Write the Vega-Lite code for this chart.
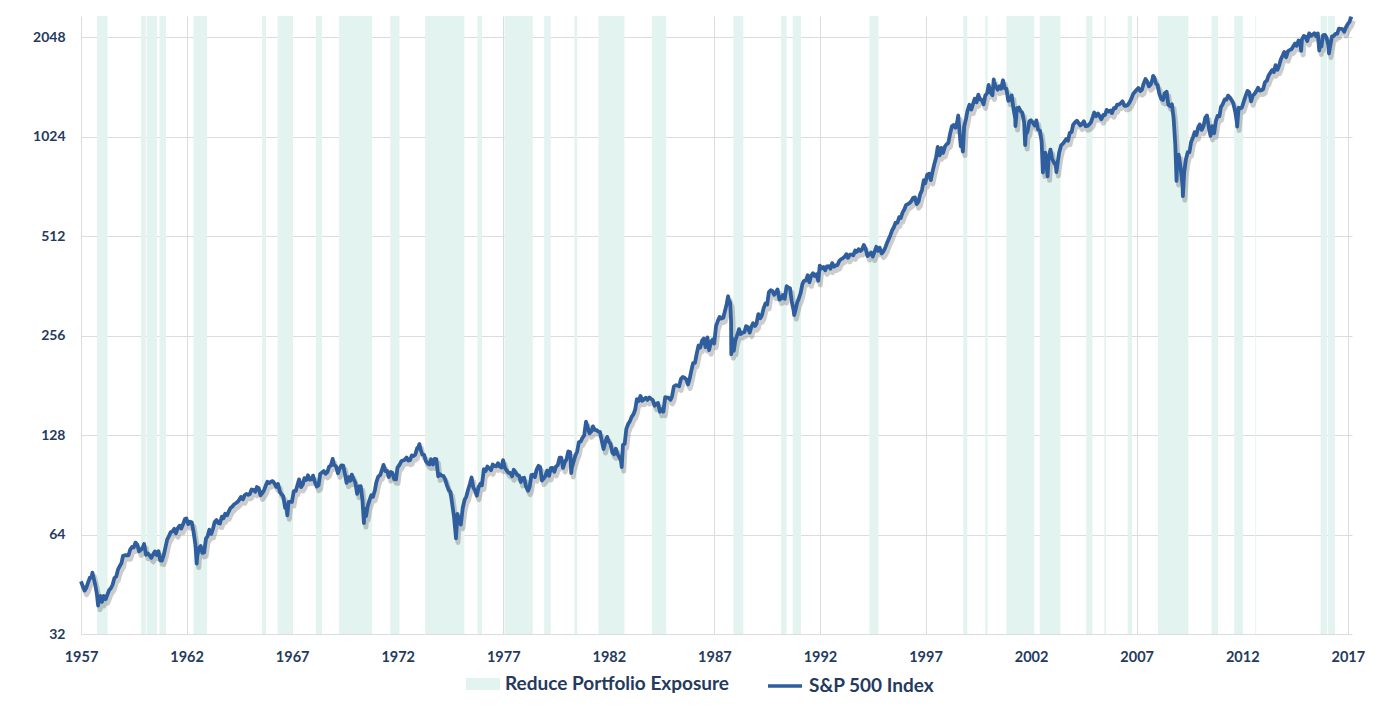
{
"$schema":"https://vega.github.io/schema/vega-lite/v6.json",
"width":1271,"height":618,
"autosize":{"type":"none"},
"padding":{"left":81,"top":16,"right":37,"bottom":74},
"background":"white",
"config":{"view":{"stroke":null},"font":"Lato"},
"datasets":{
"bands":[
{"s":1957.76,"e":1958.26},{"s":1959.84,"e":1960.07},{"s":1960.11,"e":1960.6},{"s":1960.72,"e":1961.02},{"s":1962.33,"e":1962.97},{"s":1965.58,"e":1965.76},{"s":1966.31,"e":1967.04},{"s":1968.13,"e":1968.41},{"s":1969.22,"e":1970.79},{"s":1971.65,"e":1972.08},{"s":1973.3,"e":1975.16},{"s":1975.78,"e":1975.99},{"s":1977.06,"e":1978.4},{"s":1978.94,"e":1979.25},{"s":1980.37,"e":1980.5},{"s":1981.51,"e":1982.74},{"s":1984.04,"e":1984.72},{"s":1987.9,"e":1988.37},{"s":1990.16,"e":1990.42},{"s":1990.71,"e":1991.1},{"s":1994.34,"e":1994.77},{"s":1998.79,"e":1998.98},{"s":1999.83,"e":1999.94},{"s":2000.83,"e":2002.15},{"s":2002.41,"e":2003.39},{"s":2004.61,"e":2004.9},{"s":2005.47,"e":2005.55},{"s":2006.57,"e":2006.78},{"s":2008.01,"e":2009.45},{"s":2010.55,"e":2010.85},{"s":2011.62,"e":2012.04},{"s":2012.62,"e":2012.66},{"s":2015.71,"e":2016.02},{"s":2016.07,"e":2016.39}
],
"spx":[
{"t":1957.0,"v":46.2},{"t":1957.54,"v":49.1},{"t":1957.81,"v":39.0},{"t":1962.48,"v":52.3},{"t":1966.77,"v":73.2},{"t":1970.4,"v":69.3},{"t":1973.03,"v":120.2},{"t":1974.76,"v":62.3},{"t":1978.18,"v":86.9},{"t":1980.22,"v":98.2},{"t":1982.61,"v":102.4},{"t":1987.65,"v":336.8},{"t":1987.79,"v":282.7},{"t":1987.8,"v":224.8},{"t":1990.78,"v":295.5},{"t":1998.55,"v":1186.8},{"t":1998.77,"v":923.3},{"t":2000.23,"v":1527.5},{"t":2001.26,"v":1103.3},{"t":2001.72,"v":965.8},{"t":2002.56,"v":797.7},{"t":2002.78,"v":776.8},{"t":2003.2,"v":800.7},{"t":2007.78,"v":1565.2},{"t":2008.89,"v":752.4},{"t":2009.19,"v":676.5},{"t":2011.76,"v":1099.2},{"t":2014.79,"v":1862.5},{"t":2015.65,"v":1867.6},{"t":2016.11,"v":1829.1},
{"t":1957.08,"v":44.7},{"t":1957.17,"v":43.3},{"t":1957.25,"v":44.1},{"t":1957.33,"v":45.7},{"t":1957.42,"v":47.4},{"t":1957.5,"v":47.4},{"t":1957.58,"v":47.9},{"t":1957.67,"v":45.2},{"t":1957.75,"v":42.4},{"t":1957.83,"v":41.1},{"t":1957.92,"v":41.7},{"t":1957.99,"v":40.0},
{"t":1958.08,"v":41.7},{"t":1958.17,"v":40.8},{"t":1958.25,"v":42.1},{"t":1958.33,"v":43.4},{"t":1958.42,"v":44.1},{"t":1958.5,"v":45.2},{"t":1958.58,"v":47.2},{"t":1958.67,"v":47.8},{"t":1958.75,"v":50.1},{"t":1958.83,"v":51.3},{"t":1958.92,"v":52.5},{"t":1958.99,"v":55.2},
{"t":1959.08,"v":55.4},{"t":1959.17,"v":55.4},{"t":1959.25,"v":55.4},{"t":1959.33,"v":57.6},{"t":1959.42,"v":58.7},{"t":1959.5,"v":58.5},{"t":1959.58,"v":60.5},{"t":1959.67,"v":59.6},{"t":1959.75,"v":56.9},{"t":1959.83,"v":57.5},{"t":1959.92,"v":58.3},{"t":1959.99,"v":59.9},
{"t":1960.08,"v":55.6},{"t":1960.17,"v":56.1},{"t":1960.25,"v":55.3},{"t":1960.33,"v":54.4},{"t":1960.42,"v":55.8},{"t":1960.5,"v":56.9},{"t":1960.58,"v":55.5},{"t":1960.67,"v":57.0},{"t":1960.75,"v":53.5},{"t":1960.83,"v":53.4},{"t":1960.92,"v":55.5},{"t":1960.99,"v":58.1},
{"t":1961.08,"v":61.8},{"t":1961.17,"v":63.4},{"t":1961.25,"v":65.1},{"t":1961.33,"v":65.3},{"t":1961.42,"v":66.6},{"t":1961.5,"v":64.6},{"t":1961.58,"v":66.8},{"t":1961.67,"v":68.1},{"t":1961.75,"v":66.7},{"t":1961.83,"v":68.6},{"t":1961.92,"v":71.3},{"t":1961.99,"v":71.6},
{"t":1962.08,"v":68.8},{"t":1962.17,"v":70.0},{"t":1962.25,"v":69.6},{"t":1962.33,"v":65.2},{"t":1962.42,"v":59.6},{"t":1962.5,"v":54.8},{"t":1962.58,"v":58.2},{"t":1962.67,"v":59.1},{"t":1962.75,"v":56.3},{"t":1962.83,"v":56.5},{"t":1962.92,"v":62.3},{"t":1962.99,"v":63.1},
{"t":1963.08,"v":66.2},{"t":1963.17,"v":64.3},{"t":1963.25,"v":66.6},{"t":1963.33,"v":69.8},{"t":1963.42,"v":70.8},{"t":1963.5,"v":69.4},{"t":1963.58,"v":69.1},{"t":1963.67,"v":72.5},{"t":1963.75,"v":71.7},{"t":1963.83,"v":74.0},{"t":1963.92,"v":73.2},{"t":1963.99,"v":75.0},
{"t":1964.08,"v":77.0},{"t":1964.17,"v":77.8},{"t":1964.25,"v":79.0},{"t":1964.33,"v":79.5},{"t":1964.42,"v":80.4},{"t":1964.5,"v":81.7},{"t":1964.58,"v":83.2},{"t":1964.67,"v":81.8},{"t":1964.75,"v":84.2},{"t":1964.83,"v":84.9},{"t":1964.92,"v":84.4},{"t":1964.99,"v":84.8},
{"t":1965.08,"v":87.6},{"t":1965.17,"v":87.4},{"t":1965.25,"v":86.2},{"t":1965.33,"v":89.1},{"t":1965.42,"v":88.4},{"t":1965.5,"v":84.1},{"t":1965.58,"v":85.3},{"t":1965.67,"v":87.2},{"t":1965.75,"v":90.0},{"t":1965.83,"v":92.4},{"t":1965.92,"v":91.6},{"t":1965.99,"v":92.4},
{"t":1966.08,"v":92.9},{"t":1966.17,"v":91.2},{"t":1966.25,"v":89.2},{"t":1966.33,"v":91.1},{"t":1966.42,"v":86.1},{"t":1966.5,"v":84.7},{"t":1966.58,"v":83.6},{"t":1966.67,"v":77.1},{"t":1966.75,"v":76.6},{"t":1966.83,"v":80.2},{"t":1966.92,"v":80.5},{"t":1966.99,"v":80.3},
{"t":1967.08,"v":86.6},{"t":1967.17,"v":86.8},{"t":1967.25,"v":90.2},{"t":1967.33,"v":94.0},{"t":1967.42,"v":89.1},{"t":1967.5,"v":90.6},{"t":1967.58,"v":94.8},{"t":1967.67,"v":93.6},{"t":1967.75,"v":96.7},{"t":1967.83,"v":93.9},{"t":1967.92,"v":94.0},{"t":1967.99,"v":96.5},
{"t":1968.08,"v":92.2},{"t":1968.17,"v":89.4},{"t":1968.25,"v":90.2},{"t":1968.33,"v":97.6},{"t":1968.42,"v":98.7},{"t":1968.5,"v":99.6},{"t":1968.58,"v":97.7},{"t":1968.67,"v":98.9},{"t":1968.75,"v":102.7},{"t":1968.83,"v":103.4},{"t":1968.92,"v":108.4},{"t":1968.99,"v":103.9},
{"t":1969.08,"v":103.0},{"t":1969.17,"v":98.1},{"t":1969.25,"v":101.5},{"t":1969.33,"v":103.7},{"t":1969.42,"v":103.5},{"t":1969.5,"v":97.7},{"t":1969.58,"v":91.8},{"t":1969.67,"v":95.5},{"t":1969.75,"v":93.1},{"t":1969.83,"v":97.2},{"t":1969.92,"v":93.8},{"t":1969.99,"v":92.1},
{"t":1970.08,"v":85.0},{"t":1970.17,"v":89.5},{"t":1970.25,"v":89.6},{"t":1970.33,"v":81.5},{"t":1970.42,"v":76.6},{"t":1970.5,"v":72.7},{"t":1970.58,"v":78.1},{"t":1970.67,"v":81.5},{"t":1970.75,"v":84.2},{"t":1970.83,"v":83.3},{"t":1970.92,"v":87.2},{"t":1970.99,"v":92.2},
{"t":1971.08,"v":95.9},{"t":1971.17,"v":96.8},{"t":1971.25,"v":100.3},{"t":1971.33,"v":104.0},{"t":1971.42,"v":99.6},{"t":1971.5,"v":99.7},{"t":1971.58,"v":95.6},{"t":1971.67,"v":99.0},{"t":1971.75,"v":98.3},{"t":1971.83,"v":94.2},{"t":1971.92,"v":94.0},{"t":1971.99,"v":102.1},
{"t":1972.08,"v":103.9},{"t":1972.17,"v":106.6},{"t":1972.25,"v":107.2},{"t":1972.33,"v":107.7},{"t":1972.42,"v":109.5},{"t":1972.5,"v":107.1},{"t":1972.58,"v":107.4},{"t":1972.67,"v":111.1},{"t":1972.75,"v":110.6},{"t":1972.83,"v":111.6},{"t":1972.92,"v":116.7},{"t":1972.99,"v":118.1},
{"t":1973.08,"v":116.0},{"t":1973.17,"v":111.7},{"t":1973.25,"v":111.5},{"t":1973.33,"v":107.0},{"t":1973.42,"v":105.0},{"t":1973.5,"v":104.3},{"t":1973.58,"v":108.2},{"t":1973.67,"v":104.3},{"t":1973.75,"v":108.4},{"t":1973.83,"v":108.3},{"t":1973.92,"v":96.0},{"t":1973.99,"v":97.6},
{"t":1974.08,"v":96.6},{"t":1974.17,"v":96.2},{"t":1974.25,"v":94.0},{"t":1974.33,"v":90.3},{"t":1974.42,"v":87.3},{"t":1974.5,"v":86.0},{"t":1974.58,"v":79.3},{"t":1974.67,"v":72.2},{"t":1974.75,"v":63.5},{"t":1974.83,"v":73.9},{"t":1974.92,"v":70.0},{"t":1974.99,"v":68.6},
{"t":1975.08,"v":77.0},{"t":1975.17,"v":81.6},{"t":1975.25,"v":83.4},{"t":1975.33,"v":87.3},{"t":1975.42,"v":91.2},{"t":1975.5,"v":95.2},{"t":1975.58,"v":88.8},{"t":1975.67,"v":86.9},{"t":1975.75,"v":83.9},{"t":1975.83,"v":89.0},{"t":1975.92,"v":91.2},{"t":1975.99,"v":90.2},
{"t":1976.08,"v":100.9},{"t":1976.17,"v":99.7},{"t":1976.25,"v":102.8},{"t":1976.33,"v":101.6},{"t":1976.42,"v":100.2},{"t":1976.5,"v":104.3},{"t":1976.58,"v":103.4},{"t":1976.67,"v":102.9},{"t":1976.75,"v":105.2},{"t":1976.83,"v":102.9},{"t":1976.92,"v":102.1},{"t":1976.99,"v":107.5},
{"t":1977.08,"v":102.0},{"t":1977.17,"v":99.8},{"t":1977.25,"v":98.4},{"t":1977.33,"v":98.4},{"t":1977.42,"v":96.1},{"t":1977.5,"v":100.5},{"t":1977.58,"v":98.9},{"t":1977.67,"v":96.8},{"t":1977.75,"v":96.5},{"t":1977.83,"v":92.3},{"t":1977.92,"v":94.8},{"t":1977.99,"v":95.1},
{"t":1978.08,"v":89.3},{"t":1978.17,"v":87.0},{"t":1978.25,"v":89.2},{"t":1978.33,"v":96.8},{"t":1978.42,"v":97.2},{"t":1978.5,"v":95.5},{"t":1978.58,"v":100.7},{"t":1978.67,"v":103.3},{"t":1978.75,"v":102.5},{"t":1978.83,"v":93.2},{"t":1978.92,"v":94.7},{"t":1978.99,"v":96.1},
{"t":1979.08,"v":99.9},{"t":1979.17,"v":96.3},{"t":1979.25,"v":101.6},{"t":1979.33,"v":101.8},{"t":1979.42,"v":99.1},{"t":1979.5,"v":102.9},{"t":1979.58,"v":103.8},{"t":1979.67,"v":109.3},{"t":1979.75,"v":109.3},{"t":1979.83,"v":101.8},{"t":1979.92,"v":106.2},{"t":1979.99,"v":107.9},
{"t":1980.08,"v":114.2},{"t":1980.17,"v":113.7},{"t":1980.25,"v":102.1},{"t":1980.33,"v":106.3},{"t":1980.42,"v":111.2},{"t":1980.5,"v":114.2},{"t":1980.58,"v":121.7},{"t":1980.67,"v":122.4},{"t":1980.75,"v":125.5},{"t":1980.83,"v":127.5},{"t":1980.92,"v":140.5},{"t":1980.99,"v":135.8},
{"t":1981.08,"v":129.6},{"t":1981.17,"v":131.3},{"t":1981.25,"v":136.0},{"t":1981.33,"v":132.8},{"t":1981.42,"v":132.6},{"t":1981.5,"v":131.2},{"t":1981.58,"v":130.9},{"t":1981.67,"v":122.8},{"t":1981.75,"v":116.2},{"t":1981.83,"v":121.9},{"t":1981.92,"v":126.4},{"t":1981.99,"v":122.6},
{"t":1982.08,"v":120.4},{"t":1982.17,"v":113.1},{"t":1982.25,"v":112.0},{"t":1982.33,"v":116.4},{"t":1982.42,"v":111.9},{"t":1982.5,"v":109.6},{"t":1982.58,"v":107.1},{"t":1982.67,"v":119.5},{"t":1982.75,"v":120.4},{"t":1982.83,"v":133.7},{"t":1982.92,"v":138.5},{"t":1982.99,"v":140.6},
{"t":1983.08,"v":145.3},{"t":1983.17,"v":148.1},{"t":1983.25,"v":153.0},{"t":1983.33,"v":164.4},{"t":1983.42,"v":162.4},{"t":1983.5,"v":168.1},{"t":1983.58,"v":162.6},{"t":1983.67,"v":164.4},{"t":1983.75,"v":166.1},{"t":1983.83,"v":163.6},{"t":1983.92,"v":166.4},{"t":1983.99,"v":164.9},
{"t":1984.08,"v":163.4},{"t":1984.17,"v":157.1},{"t":1984.25,"v":159.2},{"t":1984.33,"v":160.1},{"t":1984.42,"v":150.6},{"t":1984.5,"v":153.2},{"t":1984.58,"v":150.7},{"t":1984.67,"v":166.7},{"t":1984.75,"v":166.1},{"t":1984.83,"v":166.1},{"t":1984.92,"v":163.6},{"t":1984.99,"v":167.2},
{"t":1985.08,"v":179.6},{"t":1985.17,"v":181.2},{"t":1985.25,"v":180.7},{"t":1985.33,"v":179.8},{"t":1985.42,"v":189.6},{"t":1985.5,"v":191.9},{"t":1985.58,"v":190.9},{"t":1985.67,"v":188.6},{"t":1985.75,"v":182.1},{"t":1985.83,"v":189.8},{"t":1985.92,"v":202.2},{"t":1985.99,"v":211.3},
{"t":1986.08,"v":211.8},{"t":1986.17,"v":226.9},{"t":1986.25,"v":238.9},{"t":1986.33,"v":235.5},{"t":1986.42,"v":247.4},{"t":1986.5,"v":250.8},{"t":1986.58,"v":236.1},{"t":1986.67,"v":252.9},{"t":1986.75,"v":231.3},{"t":1986.83,"v":244.0},{"t":1986.92,"v":249.2},{"t":1986.99,"v":242.2},
{"t":1987.08,"v":274.1},{"t":1987.17,"v":284.2},{"t":1987.25,"v":291.7},{"t":1987.33,"v":288.4},{"t":1987.42,"v":290.1},{"t":1987.5,"v":304.0},{"t":1987.58,"v":318.7},{"t":1987.67,"v":329.8},{"t":1987.75,"v":321.8},{"t":1987.83,"v":251.8},{"t":1987.92,"v":230.3},{"t":1987.99,"v":247.1},
{"t":1988.08,"v":257.1},{"t":1988.17,"v":267.8},{"t":1988.25,"v":258.9},{"t":1988.33,"v":261.3},{"t":1988.42,"v":262.2},{"t":1988.5,"v":273.5},{"t":1988.58,"v":272.0},{"t":1988.67,"v":261.5},{"t":1988.75,"v":271.9},{"t":1988.83,"v":279.0},{"t":1988.92,"v":273.7},{"t":1988.99,"v":277.7},
{"t":1989.08,"v":297.5},{"t":1989.17,"v":288.9},{"t":1989.25,"v":294.9},{"t":1989.33,"v":309.6},{"t":1989.42,"v":320.5},{"t":1989.5,"v":318.0},{"t":1989.58,"v":346.1},{"t":1989.67,"v":351.5},{"t":1989.75,"v":349.2},{"t":1989.83,"v":340.4},{"t":1989.92,"v":346.0},{"t":1989.99,"v":353.4},
{"t":1990.08,"v":329.1},{"t":1990.17,"v":331.9},{"t":1990.25,"v":339.9},{"t":1990.33,"v":330.8},{"t":1990.42,"v":361.2},{"t":1990.5,"v":358.0},{"t":1990.58,"v":356.2},{"t":1990.67,"v":322.6},{"t":1990.75,"v":306.1},{"t":1990.83,"v":304.0},{"t":1990.92,"v":322.2},{"t":1990.99,"v":330.2},
{"t":1991.08,"v":343.9},{"t":1991.17,"v":367.1},{"t":1991.25,"v":375.2},{"t":1991.33,"v":375.4},{"t":1991.42,"v":389.8},{"t":1991.5,"v":371.2},{"t":1991.58,"v":387.8},{"t":1991.67,"v":395.4},{"t":1991.75,"v":387.9},{"t":1991.83,"v":392.5},{"t":1991.92,"v":375.2},{"t":1991.99,"v":417.1},
{"t":1992.08,"v":408.8},{"t":1992.17,"v":412.7},{"t":1992.25,"v":403.7},{"t":1992.33,"v":415.0},{"t":1992.42,"v":415.4},{"t":1992.5,"v":408.1},{"t":1992.58,"v":424.2},{"t":1992.67,"v":414.0},{"t":1992.75,"v":417.8},{"t":1992.83,"v":418.7},{"t":1992.92,"v":431.4},{"t":1992.99,"v":435.7},
{"t":1993.08,"v":438.8},{"t":1993.17,"v":443.4},{"t":1993.25,"v":451.7},{"t":1993.33,"v":440.2},{"t":1993.42,"v":450.2},{"t":1993.5,"v":450.5},{"t":1993.58,"v":448.1},{"t":1993.67,"v":463.6},{"t":1993.75,"v":458.9},{"t":1993.83,"v":467.8},{"t":1993.92,"v":461.8},{"t":1993.99,"v":466.5},
{"t":1994.08,"v":481.6},{"t":1994.17,"v":467.1},{"t":1994.25,"v":445.8},{"t":1994.33,"v":450.9},{"t":1994.42,"v":456.5},{"t":1994.5,"v":444.3},{"t":1994.58,"v":458.3},{"t":1994.67,"v":475.5},{"t":1994.75,"v":462.7},{"t":1994.83,"v":472.4},{"t":1994.92,"v":453.7},{"t":1994.99,"v":459.3},
{"t":1995.08,"v":470.4},{"t":1995.17,"v":487.4},{"t":1995.25,"v":500.7},{"t":1995.33,"v":514.7},{"t":1995.42,"v":533.4},{"t":1995.5,"v":544.8},{"t":1995.58,"v":562.1},{"t":1995.67,"v":561.9},{"t":1995.75,"v":584.4},{"t":1995.83,"v":581.5},{"t":1995.92,"v":605.4},{"t":1995.99,"v":615.9},
{"t":1996.08,"v":636.0},{"t":1996.17,"v":640.4},{"t":1996.25,"v":645.5},{"t":1996.33,"v":654.2},{"t":1996.42,"v":669.1},{"t":1996.5,"v":670.6},{"t":1996.58,"v":640.0},{"t":1996.67,"v":652.0},{"t":1996.75,"v":687.3},{"t":1996.83,"v":705.3},{"t":1996.92,"v":757.0},{"t":1996.99,"v":740.7},
{"t":1997.08,"v":786.2},{"t":1997.17,"v":790.8},{"t":1997.25,"v":757.1},{"t":1997.33,"v":801.3},{"t":1997.42,"v":848.3},{"t":1997.5,"v":885.1},{"t":1997.58,"v":954.3},{"t":1997.67,"v":899.5},{"t":1997.75,"v":947.3},{"t":1997.83,"v":914.6},{"t":1997.92,"v":955.4},{"t":1997.99,"v":970.4},
{"t":1998.08,"v":980.3},{"t":1998.17,"v":1049.3},{"t":1998.25,"v":1101.8},{"t":1998.33,"v":1111.8},{"t":1998.42,"v":1090.8},{"t":1998.5,"v":1133.8},{"t":1998.58,"v":1120.7},{"t":1998.67,"v":957.3},{"t":1998.75,"v":1017.0},{"t":1998.83,"v":1098.7},{"t":1998.92,"v":1163.6},{"t":1998.99,"v":1229.2},
{"t":1999.08,"v":1279.6},{"t":1999.17,"v":1238.3},{"t":1999.25,"v":1286.4},{"t":1999.33,"v":1335.2},{"t":1999.42,"v":1301.8},{"t":1999.5,"v":1372.7},{"t":1999.58,"v":1328.7},{"t":1999.67,"v":1320.4},{"t":1999.75,"v":1282.7},{"t":1999.83,"v":1362.9},{"t":1999.92,"v":1388.9},{"t":1999.99,"v":1469.3},
{"t":2000.08,"v":1394.5},{"t":2000.17,"v":1366.4},{"t":2000.25,"v":1498.6},{"t":2000.33,"v":1452.4},{"t":2000.42,"v":1420.6},{"t":2000.5,"v":1454.6},{"t":2000.58,"v":1430.8},{"t":2000.67,"v":1517.7},{"t":2000.75,"v":1436.5},{"t":2000.83,"v":1429.4},{"t":2000.92,"v":1315.0},{"t":2000.99,"v":1320.3},
{"t":2001.08,"v":1366.0},{"t":2001.17,"v":1239.9},{"t":2001.25,"v":1160.3},{"t":2001.33,"v":1249.5},{"t":2001.42,"v":1255.8},{"t":2001.5,"v":1224.4},{"t":2001.58,"v":1211.2},{"t":2001.67,"v":1133.6},{"t":2001.75,"v":1040.9},{"t":2001.83,"v":1059.8},{"t":2001.92,"v":1139.5},{"t":2001.99,"v":1148.1},
{"t":2002.08,"v":1130.2},{"t":2002.17,"v":1106.7},{"t":2002.25,"v":1147.4},{"t":2002.33,"v":1076.9},{"t":2002.42,"v":1067.1},{"t":2002.5,"v":989.8},{"t":2002.58,"v":911.6},{"t":2002.67,"v":916.1},{"t":2002.75,"v":815.3},{"t":2002.83,"v":885.8},{"t":2002.92,"v":936.3},{"t":2002.99,"v":879.8},
{"t":2003.08,"v":855.7},{"t":2003.17,"v":841.2},{"t":2003.25,"v":848.2},{"t":2003.33,"v":916.9},{"t":2003.42,"v":963.6},{"t":2003.5,"v":974.5},{"t":2003.58,"v":990.3},{"t":2003.67,"v":1008.0},{"t":2003.75,"v":996.0},{"t":2003.83,"v":1050.7},{"t":2003.92,"v":1058.2},{"t":2003.99,"v":1111.9},
{"t":2004.08,"v":1131.1},{"t":2004.17,"v":1144.9},{"t":2004.25,"v":1126.2},{"t":2004.33,"v":1107.3},{"t":2004.42,"v":1120.7},{"t":2004.5,"v":1140.8},{"t":2004.58,"v":1101.7},{"t":2004.67,"v":1104.2},{"t":2004.75,"v":1114.6},{"t":2004.83,"v":1130.2},{"t":2004.92,"v":1173.8},{"t":2004.99,"v":1211.9},
{"t":2005.08,"v":1181.3},{"t":2005.17,"v":1203.6},{"t":2005.25,"v":1180.6},{"t":2005.33,"v":1156.9},{"t":2005.42,"v":1191.5},{"t":2005.5,"v":1191.3},{"t":2005.58,"v":1234.2},{"t":2005.67,"v":1220.3},{"t":2005.75,"v":1228.8},{"t":2005.83,"v":1207.0},{"t":2005.92,"v":1249.5},{"t":2005.99,"v":1248.3},
{"t":2006.08,"v":1280.1},{"t":2006.17,"v":1280.7},{"t":2006.25,"v":1294.8},{"t":2006.33,"v":1310.6},{"t":2006.42,"v":1270.1},{"t":2006.5,"v":1270.2},{"t":2006.58,"v":1276.7},{"t":2006.67,"v":1303.8},{"t":2006.75,"v":1335.9},{"t":2006.83,"v":1377.9},{"t":2006.92,"v":1400.6},{"t":2006.99,"v":1418.3},
{"t":2007.08,"v":1438.2},{"t":2007.17,"v":1406.8},{"t":2007.25,"v":1420.9},{"t":2007.33,"v":1482.4},{"t":2007.42,"v":1530.6},{"t":2007.5,"v":1503.4},{"t":2007.58,"v":1455.3},{"t":2007.67,"v":1474.0},{"t":2007.75,"v":1526.8},{"t":2007.83,"v":1549.4},{"t":2007.92,"v":1481.1},{"t":2007.99,"v":1468.4},
{"t":2008.08,"v":1378.6},{"t":2008.17,"v":1330.6},{"t":2008.25,"v":1322.7},{"t":2008.33,"v":1385.6},{"t":2008.42,"v":1400.4},{"t":2008.5,"v":1280.0},{"t":2008.58,"v":1267.4},{"t":2008.67,"v":1282.8},{"t":2008.75,"v":1166.4},{"t":2008.83,"v":968.8},{"t":2008.92,"v":896.2},{"t":2008.99,"v":903.3},
{"t":2009.08,"v":825.9},{"t":2009.17,"v":735.1},{"t":2009.25,"v":797.9},{"t":2009.33,"v":872.8},{"t":2009.42,"v":919.1},{"t":2009.5,"v":919.3},{"t":2009.58,"v":987.5},{"t":2009.67,"v":1020.6},{"t":2009.75,"v":1057.1},{"t":2009.83,"v":1036.2},{"t":2009.92,"v":1095.6},{"t":2009.99,"v":1115.1},
{"t":2010.08,"v":1073.9},{"t":2010.17,"v":1104.5},{"t":2010.25,"v":1169.4},{"t":2010.33,"v":1186.7},{"t":2010.42,"v":1089.4},{"t":2010.5,"v":1030.7},{"t":2010.58,"v":1101.6},{"t":2010.67,"v":1049.3},{"t":2010.75,"v":1141.2},{"t":2010.83,"v":1183.3},{"t":2010.92,"v":1180.6},{"t":2010.99,"v":1257.6},
{"t":2011.08,"v":1286.1},{"t":2011.17,"v":1327.2},{"t":2011.25,"v":1325.8},{"t":2011.33,"v":1363.6},{"t":2011.42,"v":1345.2},{"t":2011.5,"v":1320.6},{"t":2011.58,"v":1292.3},{"t":2011.67,"v":1218.9},{"t":2011.75,"v":1131.4},{"t":2011.83,"v":1253.3},{"t":2011.92,"v":1247.0},{"t":2011.99,"v":1257.6},
{"t":2012.08,"v":1312.4},{"t":2012.17,"v":1365.7},{"t":2012.25,"v":1408.5},{"t":2012.33,"v":1397.9},{"t":2012.42,"v":1310.3},{"t":2012.5,"v":1362.2},{"t":2012.58,"v":1379.3},{"t":2012.67,"v":1406.6},{"t":2012.75,"v":1440.7},{"t":2012.83,"v":1412.2},{"t":2012.92,"v":1416.2},{"t":2012.99,"v":1426.2},
{"t":2013.08,"v":1498.1},{"t":2013.17,"v":1514.7},{"t":2013.25,"v":1569.2},{"t":2013.33,"v":1597.6},{"t":2013.42,"v":1630.7},{"t":2013.5,"v":1606.3},{"t":2013.58,"v":1685.7},{"t":2013.67,"v":1633.0},{"t":2013.75,"v":1681.6},{"t":2013.83,"v":1756.5},{"t":2013.92,"v":1805.8},{"t":2013.99,"v":1848.4},
{"t":2014.08,"v":1782.6},{"t":2014.17,"v":1859.5},{"t":2014.25,"v":1872.3},{"t":2014.33,"v":1884.0},{"t":2014.42,"v":1923.6},{"t":2014.5,"v":1960.2},{"t":2014.58,"v":1930.7},{"t":2014.67,"v":2003.4},{"t":2014.75,"v":1972.3},{"t":2014.83,"v":2018.1},{"t":2014.92,"v":2067.6},{"t":2014.99,"v":2058.9},
{"t":2015.08,"v":1995.0},{"t":2015.17,"v":2104.5},{"t":2015.25,"v":2067.9},{"t":2015.33,"v":2085.5},{"t":2015.42,"v":2107.4},{"t":2015.5,"v":2063.1},{"t":2015.58,"v":2103.8},{"t":2015.67,"v":1972.2},{"t":2015.75,"v":1920.0},{"t":2015.83,"v":2079.4},{"t":2015.92,"v":2080.4},{"t":2015.99,"v":2043.9},
{"t":2016.08,"v":1940.2},{"t":2016.17,"v":1932.2},{"t":2016.25,"v":2059.7},{"t":2016.33,"v":2065.3},{"t":2016.42,"v":2097.0},{"t":2016.5,"v":2098.9},{"t":2016.58,"v":2173.6},{"t":2016.67,"v":2171.0},{"t":2016.75,"v":2168.3},{"t":2016.83,"v":2126.2},{"t":2016.92,"v":2198.8},{"t":2016.99,"v":2238.8},
{"t":2017.08,"v":2278.9},{"t":2017.17,"v":2363.6}
]
},
"layer":[
{"data":{"name":"bands"},
 "mark":{"type":"rect","opacity":1},
 "encoding":{
  "x":{"field":"s","type":"quantitative","scale":{"domain":[1957,2017.2],"nice":false,"zero":false},
   "axis":{"values":[1957,1962,1967,1972,1977,1982,1987,1992,1997,2002,2007,2012,2017],"format":"d","title":null,"grid":true,"gridColor":"#DCDCDC","gridWidth":1,"domain":false,"ticks":false,"labelFlush":false,"labelOverlap":false,"labelFont":"Lato","labelFontWeight":"bold","labelFontSize":14.5,"labelColor":"#243A5E","labelPadding":16}},
  "x2":{"field":"e"},
  "fill":{"datum":"Reduce Portfolio Exposure","type":"nominal","scale":{"range":["#E3F3EF"]},
   "legend":{"orient":"none","legendX":385,"legendY":651,"title":null,"padding":0,"symbolType":"M-1,-0.35H1V0.35H-1Z","symbolSize":1156,"symbolStrokeWidth":0,"symbolOpacity":1,"labelOffset":5,"labelFont":"Lato","labelFontWeight":"bold","labelFontSize":19,"labelColor":"#243A5E","labelLimit":400}}
 }},
{"data":{"name":"spx"},
 "mark":{"type":"line","color":"#555555","opacity":0.3,"strokeWidth":5,"xOffset":2,"yOffset":4,"strokeJoin":"round"},
 "encoding":{
  "x":{"field":"t","type":"quantitative"},
  "y":{"field":"v","type":"quantitative"}
 }},
{"data":{"name":"spx"},
 "mark":{"type":"line","strokeWidth":3.8,"strokeJoin":"round"},
 "encoding":{
  "x":{"field":"t","type":"quantitative"},
  "y":{"field":"v","type":"quantitative","scale":{"type":"log","base":2,"domain":[32,2375],"nice":false},
   "axis":{"values":[32,64,128,256,512,1024,2048],"format":"d","title":null,"grid":true,"gridColor":"#DCDCDC","gridWidth":1,"domain":false,"ticks":false,"labelFont":"Lato","labelFontWeight":"bold","labelFontSize":14,"labelColor":"#243A5E","labelPadding":16}},
  "stroke":{"datum":"S&P 500 Index","type":"nominal","scale":{"range":["#2E5E9E"]},
   "legend":{"orient":"none","legendX":685,"legendY":651,"title":null,"padding":0,"symbolType":"stroke","symbolSize":1156,"symbolStrokeWidth":3.5,"labelOffset":5,"labelFont":"Lato","labelFontWeight":"bold","labelFontSize":19,"labelColor":"#243A5E","labelLimit":400}}
 }}
]
}
